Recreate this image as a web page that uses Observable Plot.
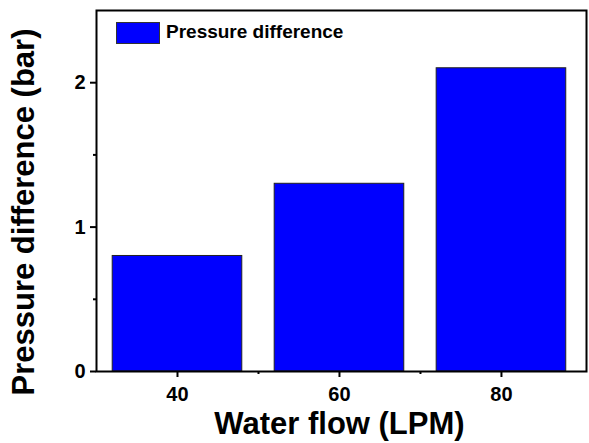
<!DOCTYPE html>
<html><head><meta charset="utf-8">
<script src="https://cdn.jsdelivr.net/npm/d3@7"></script>
<script src="https://cdn.jsdelivr.net/npm/@observablehq/plot@0.6"></script>
<style>
body{margin:0;background:#fff;}
#wrap{position:relative;width:589px;height:443px;font-family:"Liberation Sans",Arial,sans-serif;color:#000;}
#legend-swatch{position:absolute;left:116px;top:22px;width:42px;height:20px;background:#0000ff;border:1px solid #333;}
#legend-label{position:absolute;left:166px;top:22px;font-size:19px;line-height:19px;font-weight:bold;white-space:nowrap;}
</style></head><body><div id="wrap"></div>
<script>
const flows = [40, 60, 80];
const pressures = [0.8, 1.3, 2.1];
const xTicks = [40, 60, 80];
const xMinorTicks = [50, 70];
const yTicks = [0, 1, 2];
const yMinorTicks = [0.5, 1.5];
const seriesName = "Pressure difference";
const xTitle = "Water flow (LPM)";
const yTitle = "Pressure difference (bar)";
const barHalfWidth = 8;

const data = flows.map((f, i) => ({flow: f, dp: pressures[i]}));
const font = "Liberation Sans, Arial, sans-serif";

const chart = Plot.plot({
  width: 589, height: 443,
  marginLeft: 96, marginRight: 3, marginTop: 10, marginBottom: 72,
  style: {fontFamily: font, background: "#fff", color: "#000"},
  x: {domain: [30, 90.5]},
  y: {domain: [0, 2.5]},
  marks: [
    Plot.rectY(data, {x1: d => d.flow - barHalfWidth, x2: d => d.flow + barHalfWidth, y: "dp", fill: "#0000ff", stroke: "#222", strokeWidth: 1}),
    Plot.frame({stroke: "#000", strokeWidth: 2}),
    Plot.axisX({ticks: xTicks, tickSize: 6, tickPadding: 9, fontSize: 20, fontWeight: "bold", tickFormat: d => String(d), label: null, strokeWidth: 2}),
    Plot.axisX({ticks: xMinorTicks, tickSize: 3, text: null, label: null, strokeWidth: 2}),
    Plot.axisY({ticks: yTicks, tickSize: 6, tickPadding: 5, fontSize: 20, fontWeight: "bold", tickFormat: d => String(d), label: null, strokeWidth: 2}),
    Plot.axisY({ticks: yMinorTicks, tickSize: 3, text: null, label: null, strokeWidth: 2}),
    Plot.text([xTitle], {text: d => d, frameAnchor: "bottom", textAnchor: "middle", dx: -2, dy: 62, fontSize: 31, fontWeight: "bold"}),
    Plot.text([yTitle], {text: d => d, frameAnchor: "left", textAnchor: "middle", rotate: -90, dx: -72, dy: 21, fontSize: 31, fontWeight: "bold"})
  ]
});

const wrap = document.getElementById("wrap");
wrap.appendChild(chart);
const sw = document.createElement("div"); sw.id = "legend-swatch"; wrap.appendChild(sw);
const lb = document.createElement("div"); lb.id = "legend-label"; lb.textContent = seriesName; wrap.appendChild(lb);
chart.style.position = "absolute"; chart.style.left = "0"; chart.style.top = "0";
</script>
</body></html>
